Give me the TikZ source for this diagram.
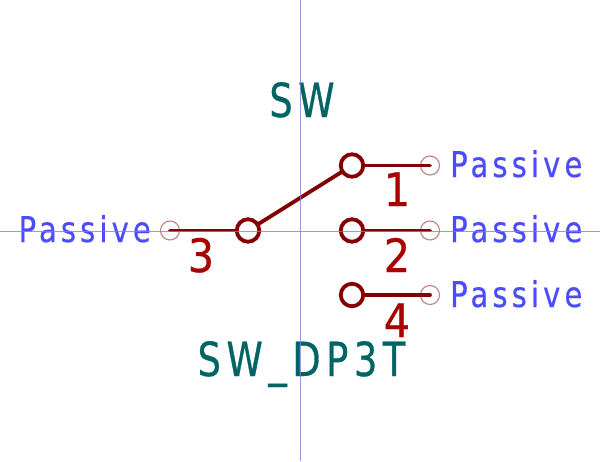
\documentclass[tikz,border=0pt]{standalone}
\usepackage{fontspec}
\setmainfont{DejaVu Sans}
\newfontfamily\reffont[FakeStretch=0.78,LetterSpace=12,FakeBold=0.6]{DejaVu Sans}
\newfontfamily\numfont[FakeStretch=0.9,FakeBold=0.6]{DejaVu Sans}
\newfontfamily\typefont[FakeStretch=0.82,LetterSpace=11.5,FakeBold=0.4]{DejaVu Sans}
\definecolor{axisc}{HTML}{8080D8}
\definecolor{pinc}{HTML}{840000}
\definecolor{endc}{HTML}{C08080}
\definecolor{numc}{HTML}{A90000}
\definecolor{refc}{HTML}{006464}
\definecolor{typec}{HTML}{4C4CFF}
\tikzset{x=1pt,y=-1pt,
 axisline/.style={draw=axisc,line width=0.9pt,opacity=0.8},
 wire/.style={draw=pinc,line width=3.8pt,line cap=round},
 contact/.style={circle,draw=pinc,line width=3.8pt,minimum size=22.5pt,inner sep=0pt},
 endp/.style={circle,draw=endc,line width=1.1pt,minimum size=19pt,inner sep=0pt},
 pinnum/.style={text=numc,font=\numfont\fontsize{46}{46}\selectfont,inner sep=0pt,anchor=base},
 reflab/.style={text=refc,font=\reffont\fontsize{47}{47}\selectfont,inner sep=0pt,anchor=base},
 typelab/.style={text=typec,font=\typefont\fontsize{35.5}{36}\selectfont,inner sep=0pt}}
\begin{document}
\begin{tikzpicture}
\useasboundingbox (0,0) rectangle (600,461);
\coordinate (vt) at (300,0); \coordinate (vb) at (300,461);
\coordinate (hl) at (0,231); \coordinate (hr) at (600,231);
\node[endp] (e3) at (170,230.5) {};
\node[endp] (e1) at (430,165.5) {};
\node[endp] (e2) at (430,230.5) {};
\node[endp] (e4) at (430,295) {};
\node[contact] (c3) at (248,230.5) {};
\node[contact] (c1) at (352,165.5) {};
\node[contact] (c2) at (352,230.5) {};
\node[contact] (c4) at (352,295) {};
\draw[wire] (e3.center) -- (c3);
\draw[wire] (e1.center) -- (c1);
\draw[wire] (e2.center) -- (c2);
\draw[wire] (e4.center) -- (c4);
\draw[wire] (c3) -- (c1);
\node[pinnum] (n1) at (397,206) {1};
\node[pinnum] (n2) at (397,272) {2};
\node[pinnum] (n3) at (201,272) {3};
\node[pinnum] (n4) at (397,337) {4};
\node[reflab] (ref) at (302,117) {SW};
\node[reflab] (val) at (301.5,376) {SW\_DP3T};
\node[typelab,anchor=base west] (t1) at (450,177) {Passive};
\node[typelab,anchor=base west] (t2) at (450,242) {Passive};
\node[typelab,anchor=base west] (t4) at (450,307) {Passive};
\node[typelab,anchor=base east] (t3) at (151,242) {Passive};
\draw[axisline] (vt) -- (vb);
\draw[axisline] (hl) -- (hr);
\end{tikzpicture}
\end{document}
